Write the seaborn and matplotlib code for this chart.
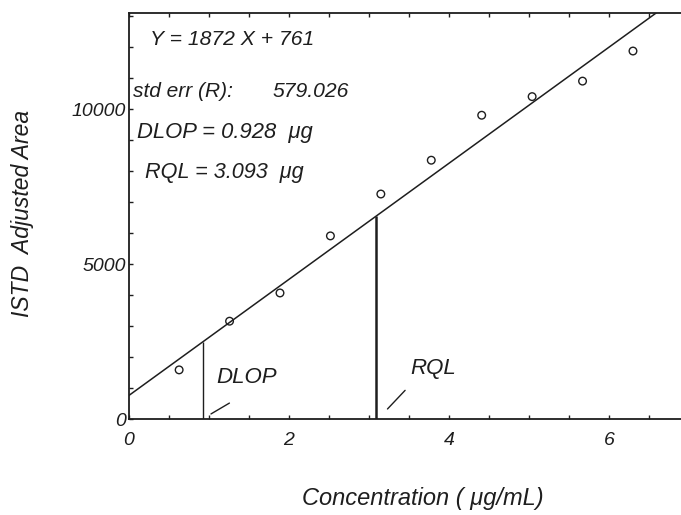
import numpy as np
import pandas as pd
import seaborn as sns
import matplotlib.pyplot as plt
from matplotlib.ticker import MultipleLocator

# calibration standards
conc = [0.63, 1.26, 1.89, 2.52, 3.15, 3.78, 4.41, 5.04, 5.67, 6.30]
area = [1590, 3160, 4070, 5910, 7260, 8350, 9800, 10400, 10900, 11870]

slope = 1872
intercept = 761
std_err = 579.026
dlop = 0.928
rql = 3.093

ink = "#1e1e1e"

sns.set_theme(style="ticks", rc={
    "xtick.direction": "in", "ytick.direction": "in",
    "axes.edgecolor": ink, "axes.linewidth": 1.3,
    "xtick.color": ink, "ytick.color": ink,
})
plt.rcParams["font.family"] = ["Liberation Sans", "DejaVu Sans"]
plt.rcParams["font.style"] = "italic"

df = pd.DataFrame({"conc": conc, "area": area})

fig = plt.figure(figsize=(6.81, 5.15), dpi=100)
ax = fig.add_axes([0.189, 0.186, 0.811, 0.789])

# fitted line
xs = np.array([0.0, 7.0])
sns.lineplot(x=xs, y=slope * xs + intercept, ax=ax, color=ink, lw=1.1)

sns.scatterplot(data=df, x="conc", y="area", ax=ax, marker="o",
                s=30, facecolor="none", edgecolor=ink, linewidth=1.0)

# DLOP / RQL drop lines
ax.vlines(dlop, 0, slope * dlop + intercept, color=ink, lw=1.0)
ax.vlines(rql, 0, slope * rql + intercept, color=ink, lw=1.8)
ax.plot([dlop + 0.1, dlop + 0.33], [170, 520], color=ink, lw=1.0)
ax.plot([rql + 0.14, rql + 0.36], [330, 930], color=ink, lw=1.0)
ax.text(dlop + 0.17, 1350, "DLOP", fontsize=16, color=ink, va="center")
ax.text(rql + 0.43, 1620, "RQL", fontsize=16, color=ink, va="center")

# fit summary
ax.text(0.26, 12230, f"Y = {slope} X + {intercept}", fontsize=15.2, color=ink, va="center")
ax.text(0.05, 10550, "std err (R):", fontsize=15, color=ink, va="center")
ax.text(1.8, 10550, f"{std_err:.3f}", fontsize=15.2, color=ink, va="center")
ax.text(0.1, 9230, f"DLOP = {dlop}  \u03bcg", fontsize=15.8, color=ink, va="center")
ax.text(0.2, 7940, f"RQL = {rql}  \u03bcg", fontsize=15.6, color=ink, va="center")

ax.set_xlim(0, 6.9)
ax.set_ylim(0, 13100)
ax.xaxis.set_major_locator(MultipleLocator(2))
ax.xaxis.set_minor_locator(MultipleLocator(0.5))
ax.yaxis.set_major_locator(MultipleLocator(5000))
ax.yaxis.set_minor_locator(MultipleLocator(1000))
ax.tick_params(which="both", length=3, width=1, labelsize=14, top=True)
ax.tick_params(axis="x", pad=9)
ax.tick_params(axis="y", pad=2)
ax.spines["right"].set_visible(False)

ax.set_xlabel("Concentration ( \u03bcg/mL)", fontsize=17, color=ink)
ax.set_ylabel("ISTD  Adjusted Area", fontsize=16.5, color=ink)
ax.xaxis.set_label_coords(0.533, -0.167)
ax.yaxis.set_label_coords(-0.172, 0.507)

fig.savefig("out.png", dpi=100)
